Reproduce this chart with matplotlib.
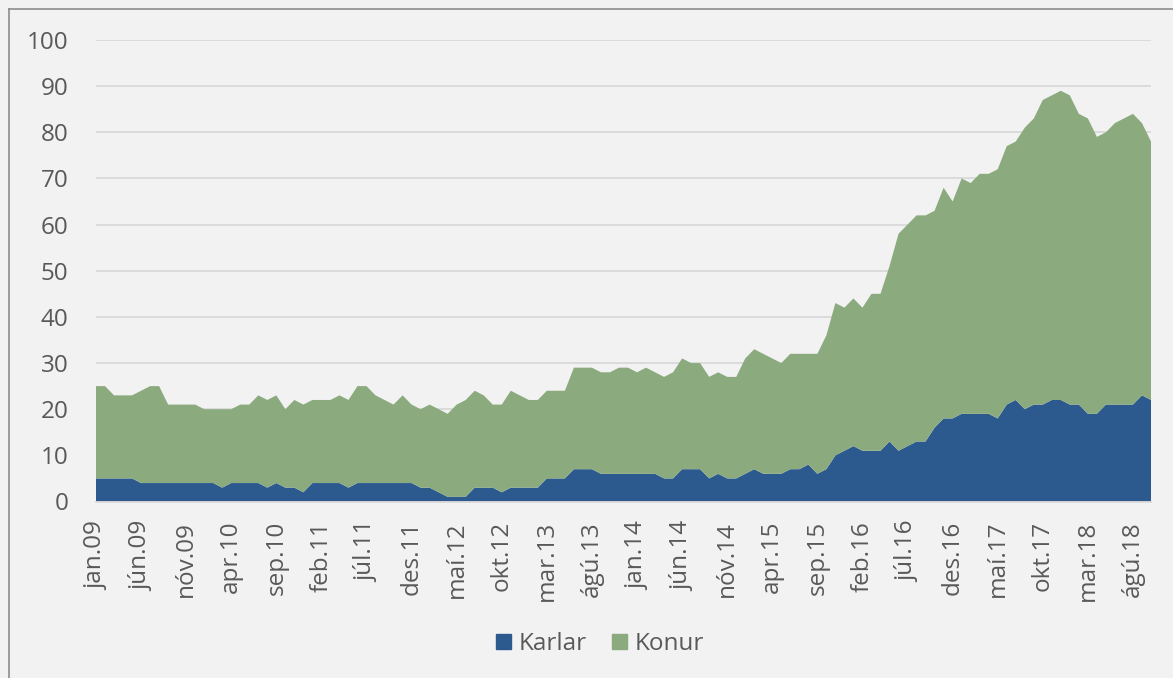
import matplotlib.pyplot as plt
from matplotlib.patches import Patch
from matplotlib.lines import Line2D

# mánaðarleg gögn, jan.09 - okt.18
months = ['jan', 'feb', 'mar', 'apr', 'maí', 'jún',
          'júl', 'ágú', 'sep', 'okt', 'nóv', 'des']

karlar = [5, 5, 5, 5, 5, 4, 4, 4, 4, 4, 4, 4, 4, 4, 3, 4, 4, 4, 4, 3,
          4, 3, 3, 2, 4, 4, 4, 4, 3, 4, 4, 4, 4, 4, 4, 4, 3, 3, 2, 1,
          1, 1, 3, 3, 3, 2, 3, 3, 3, 3, 5, 5, 5, 7, 7, 7, 6, 6, 6, 6,
          6, 6, 6, 5, 5, 7, 7, 7, 5, 6, 5, 5, 6, 7, 6, 6, 6, 7, 7, 8,
          6, 7, 10, 11, 12, 11, 11, 11, 13, 11, 12, 13, 13, 16, 18, 18, 19, 19, 19, 19,
          18, 21, 22, 20, 21, 21, 22, 22, 21, 21, 19, 19, 21, 21, 21, 21, 23, 22]

konur = [20, 20, 18, 18, 18, 20, 21, 21, 17, 17, 17, 17, 16, 16, 17, 16, 17, 17, 19, 19,
         19, 17, 19, 19, 18, 18, 18, 19, 19, 21, 21, 19, 18, 17, 19, 17, 17, 18, 18, 18,
         20, 21, 21, 20, 18, 19, 21, 20, 19, 19, 19, 19, 19, 22, 22, 22, 22, 22, 23, 23,
         22, 23, 22, 22, 23, 24, 23, 23, 22, 22, 22, 22, 25, 26, 26, 25, 24, 25, 25, 24,
         26, 29, 33, 31, 32, 31, 34, 34, 38, 47, 48, 49, 49, 47, 50, 47, 51, 50, 52, 52,
         54, 56, 56, 61, 62, 66, 66, 67, 67, 63, 64, 60, 59, 61, 62, 63, 59, 56]

labels = [f"{months[i % 12]}.{9 + i // 12:02d}" for i in range(len(karlar))]
x = list(range(len(karlar)))

plt.rcParams['font.family'] = ['Open Sans', 'DejaVu Sans']
text_col = '#595959'
blue = '#2C5A8F'
green = '#8BAA7E'

fig = plt.figure(figsize=(11.73, 6.78), dpi=100, facecolor='#F2F2F2')
ax = fig.add_axes([96 / 1173, 1 - 501.5 / 678, 1055 / 1173, 461.5 / 678])
ax.set_facecolor('#F2F2F2')

ax.stackplot(x, karlar, konur, colors=[blue, green], linewidth=0)

ax.set_xlim(0, len(x) - 1)
ax.set_ylim(0, 100)
ax.set_yticks(range(0, 101, 10))
ax.set_xticks(x[::5])
ax.set_xticklabels(labels[::5], rotation=90, va='top', ha='center')

ax.grid(axis='y', color='#D9D9D9', linewidth=1.3)
ax.set_axisbelow(True)
for s in ['top', 'right', 'left']:
    ax.spines[s].set_visible(False)
ax.spines['bottom'].set_color('#D9D9D9')
ax.spines['bottom'].set_linewidth(1.3)

ax.tick_params(axis='y', length=0, pad=20, labelsize=17.5, labelcolor=text_col)
ax.tick_params(axis='x', length=0, pad=14, labelsize=17.5, labelcolor=text_col)

# skýringar
handles = [Patch(color=blue, label='Karlar'), Patch(color=green, label='Konur')]
fig.legend(handles=handles, loc='center', bbox_to_anchor=(600 / 1173, 1 - 644 / 678),
           ncol=2, frameon=False, fontsize=17.5, labelcolor=text_col,
           handlelength=0.62, handleheight=0.62, handletextpad=0.35, columnspacing=1.0)

# rammi
fig.add_artist(Line2D([8.5 / 1173, 8.5 / 1173], [0, 1 - 8.5 / 678],
                      color='#8C8C8C', linewidth=1.2, transform=fig.transFigure))
fig.add_artist(Line2D([8.5 / 1173, 1], [1 - 8.5 / 678, 1 - 8.5 / 678],
                      color='#8C8C8C', linewidth=1.2, transform=fig.transFigure))

plt.savefig('out.png', dpi=100, facecolor=fig.get_facecolor())
